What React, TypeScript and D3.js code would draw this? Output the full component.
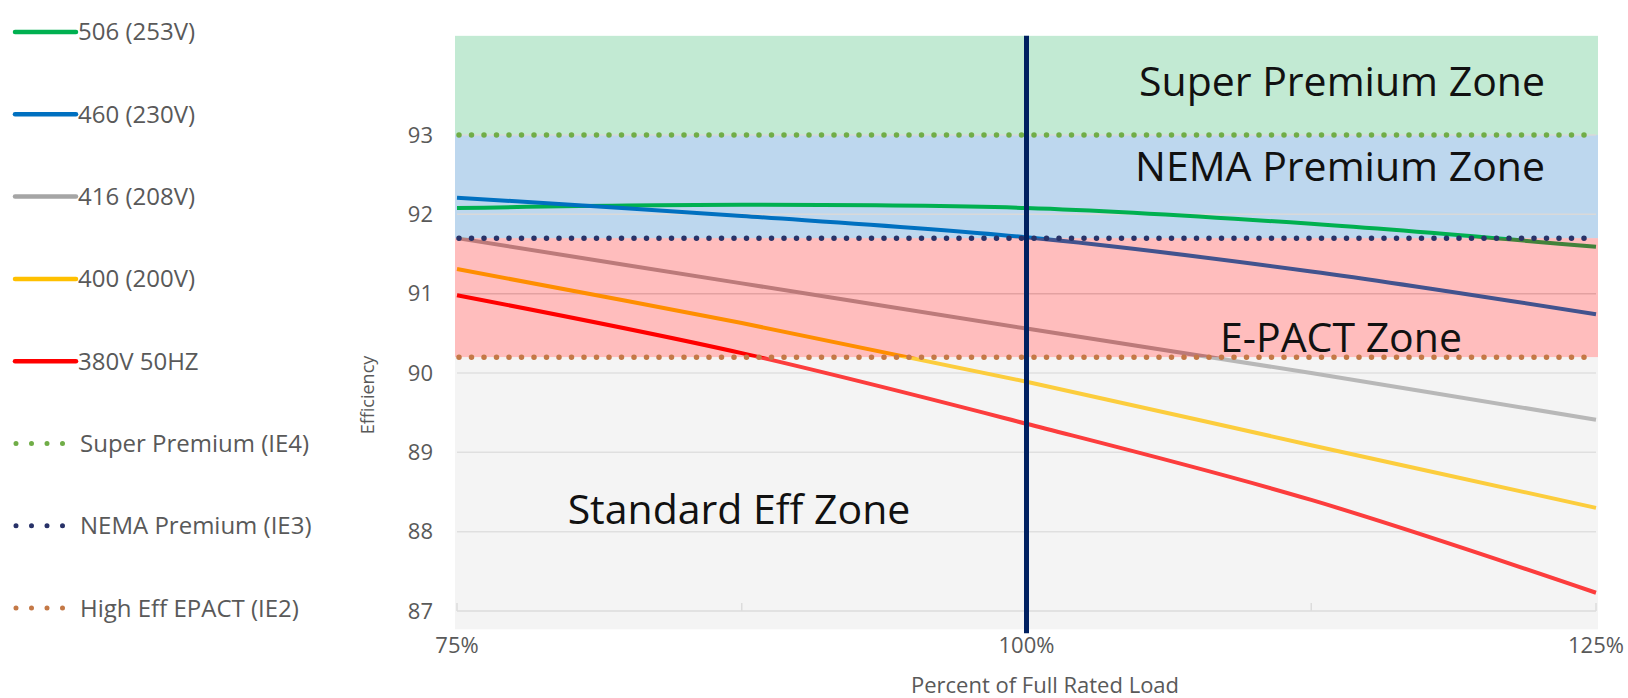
import React from 'react'
import * as d3 from 'd3'

// load levels (fraction of full rated load)
const loads = [0.75, 0.875, 1.0, 1.125, 1.25]
const loadTicks = [0.75, 1.0, 1.25]
const effTicks = [87, 88, 89, 90, 91, 92, 93]

const seriesNames = ['506 (253V)', '460 (230V)', '416 (208V)', '400 (200V)', '380V 50HZ']
const green506 = [92.08, 92.12, 92.08, 91.88, 91.59]
const blue460 = [92.21, 91.98, 91.71, 91.28, 90.74]
const gray416 = [91.7, 91.13, 90.56, 90.0, 89.41]
const yellow400 = [91.31, 90.63, 89.89, 89.09, 88.3]
const red380 = [90.98, 90.25, 89.36, 88.4, 87.23]
const seriesValues = [green506, blue460, gray416, yellow400, red380]
const seriesColors = ['#00b050', '#0070c0', '#a5a5a5', '#ffc000', '#ff0000']

const standardNames = ['Super Premium (IE4)', 'NEMA Premium (IE3)', 'High Eff EPACT (IE2)']
const standardValues = [93, 91.7, 90.2]
const standardColors = ['#70ad47', '#283268', '#c47846']

const zoneNames = ['Super Premium Zone', 'NEMA Premium Zone', 'E-PACT Zone', 'Standard Eff Zone']
const zoneTop = 94.25
const zoneBottom = 86.77

const W = 1628
const H = 698
const font = "'Open Sans', sans-serif"

const App: React.FunctionComponent = () => {
  const x = d3.scaleLinear().domain([0.75, 1.25]).range([457, 1596])
  const y = d3.scaleLinear().domain([87, 93]).range([611, 135])

  const line = d3
    .line<number>()
    .x((_, i) => x(loads[i]))
    .y(d => y(d))
    .curve(d3.curveCatmullRom.alpha(0.5))

  const left = x(0.75) - 2
  const right = x(1.25) + 2
  const band = (hi: number, lo: number) => ({ y: y(hi), h: y(lo) - y(hi) })
  const greenBand = band(zoneTop, standardValues[0])
  const blueBand = band(standardValues[0], standardValues[1])
  const pinkBand = band(standardValues[1], standardValues[2])
  const grayBand = band(standardValues[2], zoneBottom)

  const legendY = (i: number) => 32 + i * 82.3

  return (
    <svg width={W} height={H} style={{ position: 'absolute', left: 0, top: 0 }} fontFamily={font}>
      <rect x={0} y={0} width={W} height={H} fill="#ffffff" />

      {/* legend */}
      {seriesNames.map((name, i) => (
        <g key={name}>
          <line x1={15} x2={76} y1={legendY(i)} y2={legendY(i)} stroke={seriesColors[i]} strokeWidth={4.5} strokeLinecap="round" />
          <text x={78} y={legendY(i)} dy="0.35em" fontSize={24} fill="#595959">{name}</text>
        </g>
      ))}
      {standardNames.map((name, i) => {
        const yy = legendY(i + 5)
        return (
          <g key={name}>
            <line x1={16} x2={63} y1={yy} y2={yy} stroke={standardColors[i]} strokeWidth={5} strokeLinecap="round" strokeDasharray="0 15.5" />
            <text x={80} y={yy} dy="0.35em" fontSize={24} fill="#595959">{name}</text>
          </g>
        )
      })}

      {/* plot background and zones under the curves */}
      <rect x={left} y={grayBand.y} width={right - left} height={grayBand.h} fill="#f5f5f5" />
      <rect x={left} y={greenBand.y} width={right - left} height={greenBand.h} fill="#c2ead3" />
      <rect x={left} y={blueBand.y} width={right - left} height={blueBand.h} fill="#bdd7ee" />

      {effTicks.slice(1).map(t => (
        <line key={t} x1={x(0.75)} x2={x(1.25)} y1={y(t)} y2={y(t)} stroke="#d9d9d9" strokeWidth={1.5} />
      ))}
      <line x1={x(0.75)} x2={x(1.25)} y1={y(87)} y2={y(87)} stroke="#d4d4d4" strokeWidth={1.5} />
      {loads.map(l => (
        <line key={l} x1={x(l)} x2={x(l)} y1={y(87)} y2={y(87) - 8} stroke="#d4d4d4" strokeWidth={1.5} />
      ))}

      {seriesValues.map((vals, i) => (
        <path key={seriesNames[i]} d={line(vals) ?? ''} fill="none" stroke={seriesColors[i]} strokeWidth={4} />
      ))}

      {/* translucent zones over the curves */}
      <rect x={left} y={pinkBand.y} width={right - left} height={pinkBand.h} fill="#ff0000" fillOpacity={0.26} />
      <rect x={left} y={grayBand.y} width={right - left} height={grayBand.h} fill="#f5f5f5" fillOpacity={0.25} />

      {standardValues.map((v, i) => (
        <line key={standardNames[i]} x1={x(0.75) + 2} x2={x(1.25)} y1={y(v)} y2={y(v)} stroke={standardColors[i]} strokeWidth={5.5} strokeLinecap="round" strokeDasharray="0 12.5" />
      ))}

      <line x1={x(1)} x2={x(1)} y1={greenBand.y} y2={grayBand.y + grayBand.h + 4} stroke="#002060" strokeWidth={5} />

      {/* zone labels */}
      <text x={1545} y={96} textAnchor="end" fontSize={41} fill="#111">{zoneNames[0]}</text>
      <text x={1545} y={181} textAnchor="end" fontSize={41} fill="#111">{zoneNames[1]}</text>
      <text x={1341} y={352} textAnchor="middle" fontSize={41} fill="#111">{zoneNames[2]}</text>
      <text x={739} y={524} textAnchor="middle" fontSize={41} fill="#111">{zoneNames[3]}</text>

      {/* axes labels */}
      {effTicks.map(t => (
        <text key={t} x={433} y={y(t)} dy="0.35em" textAnchor="end" fontSize={22} fill="#595959">{t}</text>
      ))}
      {loadTicks.map(t => (
        <text key={t} x={x(t)} y={653} textAnchor="middle" fontSize={22} fill="#595959">{d3.format('.0%')(t)}</text>
      ))}
      <text transform={`translate(374,395) rotate(-90)`} textAnchor="middle" fontSize={18} fill="#595959">Efficiency</text>
      <text x={1045} y={693} textAnchor="middle" fontSize={22} fill="#595959">Percent of Full Rated Load</text>
    </svg>
  )
}

export default App
